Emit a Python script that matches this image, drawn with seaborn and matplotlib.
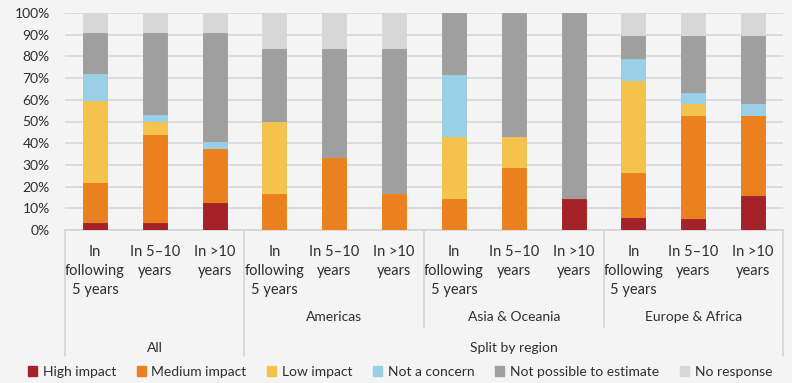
import matplotlib
matplotlib.use("Agg")
import matplotlib.pyplot as plt
from matplotlib.patches import Patch
import numpy as np
import pandas as pd
import seaborn as sns

# ---- data ----
bar_ids = ["All-1", "All-2", "All-3", "Am-1", "Am-2", "Am-3",
           "As-1", "As-2", "As-3", "Eu-1", "Eu-2", "Eu-3"]
tick_labels = ["In\nfollowing\n5 years", "In 5\u201310\nyears", "In >10\nyears"] * 4
regions = ["Americas", "Asia & Oceania", "Europe & Africa"]
series_names = ["High impact", "Medium impact", "Low impact", "Not a concern",
                "Not possible to estimate", "No response"]
high = [3.1, 3.1, 12.5, 0, 0, 0, 0, 0, 14.3, 5.3, 5.3, 15.8]
medium = [18.8, 40.6, 25.0, 16.7, 33.3, 16.7, 14.3, 28.6, 0, 21.1, 47.4, 36.8]
low = [37.5, 6.3, 0, 33.3, 0, 0, 28.6, 14.3, 0, 42.1, 5.3, 0]
not_concern = [12.5, 3.1, 3.1, 0, 0, 0, 28.6, 0, 0, 10.5, 5.3, 5.3]
not_possible = [18.8, 37.5, 50.0, 33.3, 50.0, 66.7, 28.6, 57.1, 85.7, 10.5, 26.3, 31.6]
no_response = [9.4, 9.4, 9.4, 16.7, 16.7, 16.7, 0, 0, 0, 10.5, 10.5, 10.5]
colors = ["#A52228", "#EA801E", "#F5C24C", "#9AD0E6", "#A09F9F", "#D8D7D7"]

values = np.array([high, medium, low, not_concern, not_possible, no_response], dtype=float)
values = values / values.sum(axis=0) * 100
cum = np.cumsum(values, axis=0)

BG = "#F4F4F4"
TXT = "#2E2E2E"
LINE = "#D4D4D4"

sns.set_theme(style="white")
plt.rcParams["font.family"] = ["Lato", "DejaVu Sans"]

fig = plt.figure(figsize=(7.92, 3.83), dpi=100, facecolor=BG)
ax = fig.add_axes([65 / 792, (383 - 230) / 383, (783 - 65) / 792, 217 / 383])
ax.set_facecolor(BG)

# stacked via cumulative overlay, tallest first
for i in range(len(series_names) - 1, -1, -1):
    df = pd.DataFrame({"bar": bar_ids, "value": cum[i]})
    sns.barplot(data=df, x="bar", y="value", order=bar_ids, color=colors[i],
                saturation=1, width=0.4, errorbar=None, ax=ax,
                edgecolor=colors[i], linewidth=0.6, zorder=3)

ax.set_ylim(0, 100)
ax.set_xlim(-0.5, 11.5)
ax.set_yticks(np.arange(0, 101, 10))
ax.set_yticklabels([f"{v}%" for v in range(0, 101, 10)], color=TXT, fontsize=10)
ax.yaxis.grid(True, color="#DADADA", linewidth=1.3, zorder=0)
ax.set_axisbelow(True)
ax.set_xlabel("")
ax.set_ylabel("")
for s in ["left", "right", "top"]:
    ax.spines[s].set_visible(False)
ax.spines["bottom"].set_color(LINE)
ax.spines["bottom"].set_linewidth(1.2)
ax.tick_params(axis="y", length=0, pad=11)
ax.tick_params(axis="x", length=0, pad=11)
ax.set_xticks(range(12))
ax.set_xticklabels(tick_labels, color=TXT, fontsize=10.5, linespacing=1.45)

# multi-level category separators
trans = ax.get_xaxis_transform()
for x, y0 in [(-0.5, -0.581), (2.5, -0.581), (5.5, -0.447), (8.5, -0.447), (11.5, -0.581)]:
    ax.plot([x, x], [0, y0], transform=trans, color=LINE, lw=1.2, clip_on=False)

for xc, name in zip([4, 7, 10], regions):
    ax.text(xc, -0.401, name, transform=trans, ha="center", va="center",
            fontsize=10, color=TXT)
ax.text(1, -0.544, "All", transform=trans, ha="center", va="center", fontsize=10, color=TXT)
ax.text(7, -0.544, "Split by region", transform=trans, ha="center", va="center",
        fontsize=10, color=TXT)

handles = [Patch(facecolor=c, edgecolor=c, label=n) for c, n in zip(colors, series_names)]
fig.legend(handles=handles, loc="center", bbox_to_anchor=(400 / 792, (383 - 372) / 383),
           ncol=6, frameon=False, fontsize=10, handlelength=0.65, handleheight=0.65,
           handletextpad=0.4, columnspacing=1.5, labelcolor=TXT)

fig.savefig("out.png", dpi=100, facecolor=BG)
